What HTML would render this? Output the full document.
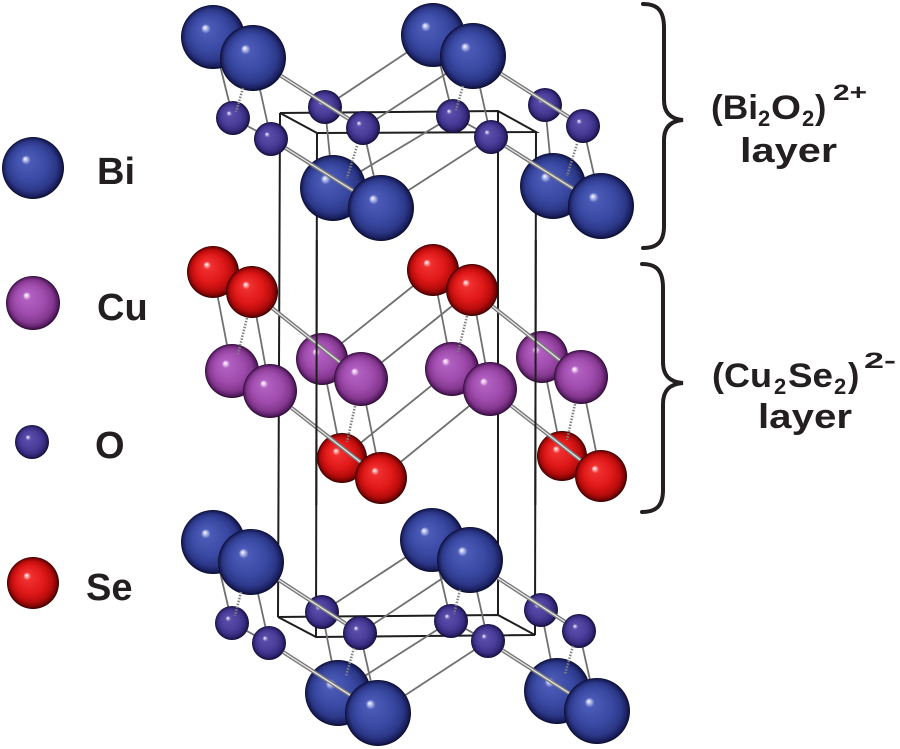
<!DOCTYPE html>
<html>
<head>
<meta charset="utf-8">
<style>
  html, body { margin: 0; padding: 0; background: #ffffff; }
  svg { display: block; }
  text { font-family: "Liberation Sans", Arial, sans-serif; font-weight: bold; fill: #231f20; }
</style>
</head>
<body>
<svg width="900" height="749" viewBox="0 0 900 749" xmlns="http://www.w3.org/2000/svg">
  <defs>
    <radialGradient id="gBi" cx="0.5" cy="0.5" r="0.5" fx="0.37" fy="0.35">
      <stop offset="0" stop-color="#ffffff"/>
      <stop offset="0.06" stop-color="#b8bfee"/>
      <stop offset="0.15" stop-color="#4a5ab6"/>
      <stop offset="0.55" stop-color="#3a4aa4"/>
      <stop offset="0.8" stop-color="#2c3888"/>
      <stop offset="0.93" stop-color="#1a2060"/>
      <stop offset="1" stop-color="#0a0c2a"/>
    </radialGradient>
    <radialGradient id="gO" cx="0.5" cy="0.5" r="0.5" fx="0.37" fy="0.35">
      <stop offset="0" stop-color="#ffffff"/>
      <stop offset="0.07" stop-color="#b4aae0"/>
      <stop offset="0.16" stop-color="#5a4caa"/>
      <stop offset="0.55" stop-color="#4a3e9a"/>
      <stop offset="0.8" stop-color="#372c80"/>
      <stop offset="0.93" stop-color="#221a58"/>
      <stop offset="1" stop-color="#100a30"/>
    </radialGradient>
    <radialGradient id="gCu" cx="0.5" cy="0.5" r="0.5" fx="0.37" fy="0.35">
      <stop offset="0" stop-color="#ffffff"/>
      <stop offset="0.06" stop-color="#f0c8f0"/>
      <stop offset="0.15" stop-color="#b060c0"/>
      <stop offset="0.55" stop-color="#a04cae"/>
      <stop offset="0.8" stop-color="#85388f"/>
      <stop offset="0.93" stop-color="#5a1e66"/>
      <stop offset="1" stop-color="#2a0a30"/>
    </radialGradient>
    <radialGradient id="gSe" cx="0.5" cy="0.5" r="0.5" fx="0.37" fy="0.35">
      <stop offset="0" stop-color="#ffffff"/>
      <stop offset="0.06" stop-color="#ffb0b0"/>
      <stop offset="0.15" stop-color="#f03030"/>
      <stop offset="0.55" stop-color="#e01818"/>
      <stop offset="0.8" stop-color="#b80c0c"/>
      <stop offset="0.93" stop-color="#7a0404"/>
      <stop offset="1" stop-color="#300000"/>
    </radialGradient>
  </defs>

  <!-- ===== Legend ===== -->
  <circle cx="33" cy="168" r="31" fill="url(#gBi)"/>
  <text x="97" y="184" font-size="38">Bi</text>
  <circle cx="33" cy="303" r="27" fill="url(#gCu)"/>
  <text x="97" y="320" font-size="38">Cu</text>
  <circle cx="32" cy="442" r="17" fill="url(#gO)"/>
  <text x="95" y="458" font-size="38">O</text>
  <circle cx="33" cy="583" r="26" fill="url(#gSe)"/>
  <text x="86" y="600" font-size="38">Se</text>

  <!-- ===== Unit cell box ===== -->
  <g stroke="#1e1e1e" stroke-width="2" fill="none">
    <path d="M280,113 L498,111 L536,132 L317,133 Z"/>
    <path d="M278,617 L498,615 L535,635 L316,637 Z"/>
    <line x1="280" y1="113" x2="278" y2="617"/>
    <line x1="317" y1="133" x2="316" y2="637"/>
    <line x1="498" y1="111" x2="498" y2="615"/>
    <line x1="536" y1="132" x2="535" y2="635"/>
  </g>

  <!-- ===== Single bonds ===== -->
  <g stroke="#707070" stroke-width="1.8" stroke-linecap="round">
    <!-- top block -->
    <line x1="213" y1="37" x2="233" y2="118"/>
    <line x1="253" y1="58" x2="271" y2="139"/>
    <line x1="233" y1="118" x2="271" y2="139"/>
    <line x1="325" y1="107" x2="333" y2="188"/>
    <line x1="363" y1="128" x2="381" y2="208"/>
    <line x1="325" y1="107" x2="433" y2="35"/>
    <line x1="363" y1="128" x2="473" y2="56"/>
    <line x1="333" y1="188" x2="453" y2="116"/>
    <line x1="381" y1="208" x2="491" y2="137"/>
    <line x1="433" y1="35" x2="453" y2="116"/>
    <line x1="473" y1="56" x2="491" y2="137"/>
    <line x1="453" y1="116" x2="491" y2="137"/>
    <line x1="545" y1="105" x2="553" y2="186"/>
    <line x1="583" y1="126" x2="601" y2="206"/>
    <!-- middle block -->
    <line x1="213" y1="272" x2="232" y2="371"/>
    <line x1="252" y1="292" x2="270" y2="391"/>
    <line x1="322" y1="359" x2="342" y2="458"/>
    <line x1="361" y1="379" x2="381" y2="478"/>
    <line x1="322" y1="359" x2="433" y2="270"/>
    <line x1="361" y1="379" x2="472" y2="290"/>
    <line x1="342" y1="458" x2="452" y2="369"/>
    <line x1="381" y1="478" x2="490" y2="389"/>
    <line x1="433" y1="270" x2="452" y2="369"/>
    <line x1="472" y1="290" x2="490" y2="389"/>
    <line x1="542" y1="357" x2="562" y2="456"/>
    <line x1="581" y1="377" x2="601" y2="476"/>
    <!-- bottom block -->
    <line x1="213" y1="542" x2="232" y2="623"/>
    <line x1="251" y1="562" x2="269" y2="643"/>
    <line x1="232" y1="623" x2="269" y2="643"/>
    <line x1="322" y1="612" x2="338" y2="693"/>
    <line x1="360" y1="633" x2="378" y2="713"/>
    <line x1="322" y1="612" x2="432" y2="540"/>
    <line x1="360" y1="633" x2="470" y2="560"/>
    <line x1="338" y1="693" x2="451" y2="621"/>
    <line x1="378" y1="713" x2="488" y2="641"/>
    <line x1="432" y1="540" x2="451" y2="621"/>
    <line x1="470" y1="560" x2="488" y2="641"/>
    <line x1="451" y1="621" x2="488" y2="641"/>
    <line x1="541" y1="610" x2="557" y2="691"/>
    <line x1="579" y1="631" x2="597" y2="711"/>
  </g>

  <!-- ===== TOP BLOCK atoms ===== -->
  <circle cx="213" cy="37" r="32" fill="url(#gBi)"/>
  <circle cx="253" cy="58" r="33" fill="url(#gBi)"/>
  <circle cx="233" cy="118" r="17" fill="url(#gO)"/>
  <circle cx="271" cy="139" r="17" fill="url(#gO)"/>
  <circle cx="325" cy="107" r="17" fill="url(#gO)"/>
  <line x1="280.8" y1="75.7" x2="348.7" y2="118.9" stroke="#787878" stroke-width="4"/>
  <line x1="280.8" y1="75.7" x2="348.7" y2="118.9" stroke="#e8e8e8" stroke-width="1.3"/>
  <circle cx="363" cy="128" r="17" fill="url(#gO)"/>
  <circle cx="333" cy="188" r="33" fill="url(#gBi)"/>
  <line x1="285.4" y1="148" x2="353" y2="190.5" stroke="#787878" stroke-width="4"/>
  <line x1="285.4" y1="148" x2="353" y2="190.5" stroke="#e8e8e8" stroke-width="1.3"/>
  <circle cx="381" cy="208" r="33" fill="url(#gBi)"/>
  <line x1="243" y1="88" x2="236" y2="112" stroke="#808080" stroke-width="2.5" stroke-dasharray="1.5 1.5"/>
  <line x1="357" y1="146" x2="347" y2="178" stroke="#808080" stroke-width="2.5" stroke-dasharray="1.5 1.5"/>

  <circle cx="433" cy="35" r="32" fill="url(#gBi)"/>
  <circle cx="473" cy="56" r="33" fill="url(#gBi)"/>
  <circle cx="453" cy="116" r="17" fill="url(#gO)"/>
  <circle cx="491" cy="137" r="17" fill="url(#gO)"/>
  <circle cx="545" cy="105" r="17" fill="url(#gO)"/>
  <line x1="500.8" y1="73.7" x2="568.7" y2="116.9" stroke="#787878" stroke-width="4"/>
  <line x1="500.8" y1="73.7" x2="568.7" y2="116.9" stroke="#e8e8e8" stroke-width="1.3"/>
  <circle cx="583" cy="126" r="17" fill="url(#gO)"/>
  <circle cx="553" cy="186" r="33" fill="url(#gBi)"/>
  <line x1="505.4" y1="146" x2="573" y2="188.5" stroke="#787878" stroke-width="4"/>
  <line x1="505.4" y1="146" x2="573" y2="188.5" stroke="#e8e8e8" stroke-width="1.3"/>
  <circle cx="601" cy="206" r="33" fill="url(#gBi)"/>
  <line x1="463" y1="86" x2="456" y2="110" stroke="#808080" stroke-width="2.5" stroke-dasharray="1.5 1.5"/>
  <line x1="577" y1="144" x2="567" y2="176" stroke="#808080" stroke-width="2.5" stroke-dasharray="1.5 1.5"/>

  <!-- ===== MIDDLE BLOCK atoms ===== -->
  <circle cx="213" cy="272" r="26" fill="url(#gSe)"/>
  <circle cx="252" cy="292" r="26" fill="url(#gSe)"/>
  <circle cx="232" cy="371" r="27" fill="url(#gCu)"/>
  <circle cx="270" cy="391" r="27" fill="url(#gCu)"/>
  <circle cx="322" cy="359" r="26" fill="url(#gCu)"/>
  <line x1="272.3" y1="308.2" x2="339.9" y2="362.2" stroke="#787878" stroke-width="4"/>
  <line x1="272.3" y1="308.2" x2="339.9" y2="362.2" stroke="#e8e8e8" stroke-width="1.3"/>
  <circle cx="361" cy="379" r="27" fill="url(#gCu)"/>
  <circle cx="342" cy="458" r="25" fill="url(#gSe)"/>
  <line x1="291.3" y1="407.7" x2="360.5" y2="462" stroke="#787878" stroke-width="4"/>
  <line x1="291.3" y1="407.7" x2="360.5" y2="462" stroke="#e8e8e8" stroke-width="1.3"/>
  <circle cx="381" cy="478" r="26" fill="url(#gSe)"/>
  <line x1="247" y1="318" x2="238" y2="354" stroke="#808080" stroke-width="2.5" stroke-dasharray="1.5 1.5"/>
  <line x1="355" y1="406" x2="347" y2="442" stroke="#808080" stroke-width="2.5" stroke-dasharray="1.5 1.5"/>

  <circle cx="433" cy="270" r="26" fill="url(#gSe)"/>
  <circle cx="472" cy="290" r="26" fill="url(#gSe)"/>
  <circle cx="452" cy="369" r="27" fill="url(#gCu)"/>
  <circle cx="490" cy="389" r="27" fill="url(#gCu)"/>
  <circle cx="542" cy="357" r="26" fill="url(#gCu)"/>
  <line x1="492.3" y1="306.2" x2="559.9" y2="360.2" stroke="#787878" stroke-width="4"/>
  <line x1="492.3" y1="306.2" x2="559.9" y2="360.2" stroke="#e8e8e8" stroke-width="1.3"/>
  <circle cx="581" cy="377" r="27" fill="url(#gCu)"/>
  <circle cx="562" cy="456" r="25" fill="url(#gSe)"/>
  <line x1="511.3" y1="405.7" x2="580.5" y2="460" stroke="#787878" stroke-width="4"/>
  <line x1="511.3" y1="405.7" x2="580.5" y2="460" stroke="#e8e8e8" stroke-width="1.3"/>
  <circle cx="601" cy="476" r="26" fill="url(#gSe)"/>
  <line x1="467" y1="316" x2="458" y2="352" stroke="#808080" stroke-width="2.5" stroke-dasharray="1.5 1.5"/>
  <line x1="575" y1="404" x2="567" y2="440" stroke="#808080" stroke-width="2.5" stroke-dasharray="1.5 1.5"/>

  <!-- front vertical edges over the middle block -->
  <g stroke="#1e1e1e" stroke-width="2">
    <line x1="316.8" y1="240" x2="316.3" y2="505"/>
    <line x1="535.8" y1="240" x2="535.3" y2="505"/>
  </g>

  <!-- ===== BOTTOM BLOCK atoms ===== -->
  <circle cx="213" cy="542" r="32" fill="url(#gBi)"/>
  <circle cx="251" cy="562" r="33" fill="url(#gBi)"/>
  <circle cx="232" cy="623" r="17" fill="url(#gO)"/>
  <circle cx="269" cy="643" r="17" fill="url(#gO)"/>
  <circle cx="322" cy="612" r="17" fill="url(#gO)"/>
  <line x1="278.7" y1="580" x2="345.8" y2="623.7" stroke="#787878" stroke-width="4"/>
  <line x1="278.7" y1="580" x2="345.8" y2="623.7" stroke="#e8e8e8" stroke-width="1.3"/>
  <circle cx="360" cy="633" r="17" fill="url(#gO)"/>
  <circle cx="338" cy="693" r="33" fill="url(#gBi)"/>
  <line x1="283.3" y1="652.2" x2="350.2" y2="695.2" stroke="#787878" stroke-width="4"/>
  <line x1="283.3" y1="652.2" x2="350.2" y2="695.2" stroke="#e8e8e8" stroke-width="1.3"/>
  <circle cx="378" cy="713" r="33" fill="url(#gBi)"/>
  <line x1="241" y1="592" x2="235" y2="616" stroke="#808080" stroke-width="2.5" stroke-dasharray="1.5 1.5"/>
  <line x1="354" y1="648" x2="346" y2="676" stroke="#808080" stroke-width="2.5" stroke-dasharray="1.5 1.5"/>

  <circle cx="432" cy="540" r="32" fill="url(#gBi)"/>
  <circle cx="470" cy="560" r="33" fill="url(#gBi)"/>
  <circle cx="451" cy="621" r="17" fill="url(#gO)"/>
  <circle cx="488" cy="641" r="17" fill="url(#gO)"/>
  <circle cx="541" cy="610" r="17" fill="url(#gO)"/>
  <line x1="497.7" y1="578" x2="564.8" y2="621.7" stroke="#787878" stroke-width="4"/>
  <line x1="497.7" y1="578" x2="564.8" y2="621.7" stroke="#e8e8e8" stroke-width="1.3"/>
  <circle cx="579" cy="631" r="17" fill="url(#gO)"/>
  <circle cx="557" cy="691" r="33" fill="url(#gBi)"/>
  <line x1="502.3" y1="650.2" x2="569.2" y2="693.2" stroke="#787878" stroke-width="4"/>
  <line x1="502.3" y1="650.2" x2="569.2" y2="693.2" stroke="#e8e8e8" stroke-width="1.3"/>
  <circle cx="597" cy="711" r="33" fill="url(#gBi)"/>
  <line x1="460" y1="590" x2="454" y2="614" stroke="#808080" stroke-width="2.5" stroke-dasharray="1.5 1.5"/>
  <line x1="573" y1="646" x2="565" y2="674" stroke="#808080" stroke-width="2.5" stroke-dasharray="1.5 1.5"/>

  <!-- ===== Braces ===== -->
  <g fill="none" stroke="#231f20" stroke-width="4" stroke-linecap="round">
    <path d="M643,4 C657,4 664,10 664,28 L664,100 C664,112 670,119 683,120 C670,121 664,128 664,140 L664,226 C664,242 657,248 643,248"/>
    <path d="M642,264 C656,264 663,270 663,288 L663,362 C663,375 669,382 683,383 C669,384 663,391 663,404 L663,490 C663,506 656,512 642,512"/>
  </g>

  <!-- ===== Layer labels ===== -->
  <text x="711" y="119" font-size="34" textLength="47" lengthAdjust="spacingAndGlyphs">(Bi</text>
  <text x="758" y="126" font-size="22">2</text>
  <text x="771" y="119" font-size="34" textLength="30" lengthAdjust="spacingAndGlyphs">O</text>
  <text x="802" y="126" font-size="22">2</text>
  <text x="815" y="119" font-size="34">)</text>
  <text x="833" y="100" font-size="22" textLength="34" lengthAdjust="spacingAndGlyphs">2+</text>
  <text x="740" y="162" font-size="34" textLength="97" lengthAdjust="spacingAndGlyphs">layer</text>

  <text x="712" y="387" font-size="34" textLength="60" lengthAdjust="spacingAndGlyphs">(Cu</text>
  <text x="774" y="394" font-size="22">2</text>
  <text x="788" y="387" font-size="34" textLength="45" lengthAdjust="spacingAndGlyphs">Se</text>
  <text x="834" y="394" font-size="22">2</text>
  <text x="848" y="387" font-size="34">)</text>
  <text x="864" y="368" font-size="22" textLength="32" lengthAdjust="spacingAndGlyphs">2-</text>
  <text x="758" y="428" font-size="34" textLength="94" lengthAdjust="spacingAndGlyphs">layer</text>
</svg>
</body>
</html>
